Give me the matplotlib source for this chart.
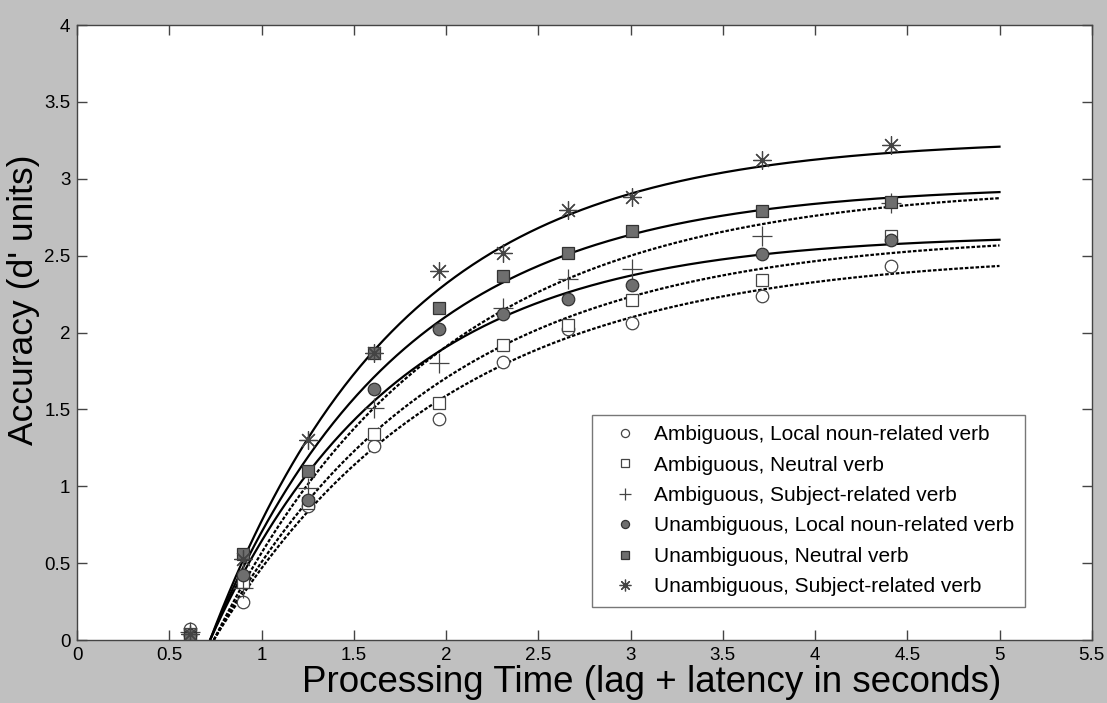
import numpy as np
import matplotlib
matplotlib.use("Agg")
import matplotlib.pyplot as plt

plt.rcParams['font.family'] = ['Liberation Sans', 'DejaVu Sans']

# processing time (lag + latency, s)
lags = [0.61, 0.90, 1.25, 1.61, 1.96, 2.31, 2.66, 3.01, 3.71, 4.41]

# d' per condition
amb_local = [0.07, 0.25, 0.87, 1.26, 1.44, 1.81, 2.02, 2.06, 2.24, 2.43]
amb_neutral = [0.04, 0.38, 0.89, 1.34, 1.54, 1.92, 2.05, 2.21, 2.34, 2.63]
amb_subject = [0.05, 0.34, 0.99, 1.51, 1.80, 2.16, 2.35, 2.41, 2.63, 2.84]
unamb_local = [0.03, 0.42, 0.91, 1.63, 2.02, 2.12, 2.22, 2.31, 2.51, 2.60]
unamb_neutral = [0.01, 0.56, 1.10, 1.87, 2.16, 2.37, 2.52, 2.66, 2.79, 2.85]
unamb_subject = [0.04, 0.53, 1.30, 1.87, 2.40, 2.52, 2.80, 2.88, 3.12, 3.22]

labels = ["Ambiguous, Local noun-related verb",
          "Ambiguous, Neutral verb",
          "Ambiguous, Subject-related verb",
          "Unambiguous, Local noun-related verb",
          "Unambiguous, Neutral verb",
          "Unambiguous, Subject-related verb"]

# exponential SAT fit parameters: asymptote (lambda), rate (beta), intercept (delta)
fit_lambda = [2.52, 2.647, 2.964, 2.64, 2.96, 3.26]
fit_beta = [0.79, 0.82, 0.82, 1.0, 0.97, 0.97]
fit_delta = [0.74, 0.74, 0.74, 0.72, 0.72, 0.72]

series = [amb_local, amb_neutral, amb_subject, unamb_local, unamb_neutral, unamb_subject]

gray_face = "#6e6e6e"
edge = "#444444"
styles = [
    dict(marker="o", mfc="white", mec=edge, ms=9, mew=0.9),
    dict(marker="s", mfc="white", mec=edge, ms=8, mew=0.9),
    dict(marker="+", mfc="none", mec=edge, ms=14, mew=0.9),
    dict(marker="o", mfc=gray_face, mec="#333333", ms=9, mew=0.9),
    dict(marker="s", mfc=gray_face, mec="#333333", ms=8, mew=0.9),
    dict(marker=(8, 2, 0), mfc="none", mec=edge, ms=13, mew=0.9),
]

fig = plt.figure(figsize=(11.07, 7.03), dpi=100, facecolor="#c0c0c0")
ax = fig.add_axes([0.0698, 0.0896, 0.9164, 0.8748])
ax.set_facecolor("white")

for i in range(6):
    t = np.linspace(fit_delta[i], 5, 500)
    curve = fit_lambda[i] * (1 - np.exp(-fit_beta[i] * (t - fit_delta[i])))
    if i < 3:
        ax.plot(t, curve, color="black", lw=1.6, linestyle=(0, (1.6, 0.8)))
    else:
        ax.plot(t, curve, color="black", lw=1.6)

handles = []
for i in range(6):
    h, = ax.plot(lags, series[i], linestyle="", label=labels[i], **styles[i])
    handles.append(h)

ax.set_xlim(0, 5.5)
ax.set_ylim(0, 4)
ax.set_xticks(np.arange(0, 5.51, 0.5))
ax.set_xticklabels(["0", "0.5", "1", "1.5", "2", "2.5", "3", "3.5", "4", "4.5", "5", "5.5"])
ax.set_yticks(np.arange(0, 4.01, 0.5))
ax.set_yticklabels(["0", "0.5", "1", "1.5", "2", "2.5", "3", "3.5", "4"])
ax.tick_params(direction="in", length=7, width=1, color="#444444", labelsize=13.5,
               top=True, right=True, pad=5)
for sp in ax.spines.values():
    sp.set_color("#444444")
    sp.set_linewidth(1)

ax.set_xlabel("Processing Time (lag + latency in seconds)", fontsize=26.5)
ax.set_ylabel("Accuracy (d' units)", fontsize=25.5)
ax.xaxis.set_label_coords(0.566, -0.04, transform=ax.transAxes)
ax.yaxis.set_label_coords(-0.053, 0.553, transform=ax.transAxes)
ax.xaxis.label.set_va("top")
ax.yaxis.label.set_va("center")

leg = ax.legend(handles=handles, loc="lower right", bbox_to_anchor=(0.934, 0.054),
                borderaxespad=0, fontsize=15, markerscale=0.65, fancybox=False,
                framealpha=1, edgecolor="#777777", handlelength=2.2,
                handletextpad=0.3, labelspacing=0.55, borderpad=0.5)
leg.get_frame().set_linewidth(1)

fig.savefig("out.png", dpi=100, facecolor=fig.get_facecolor())
